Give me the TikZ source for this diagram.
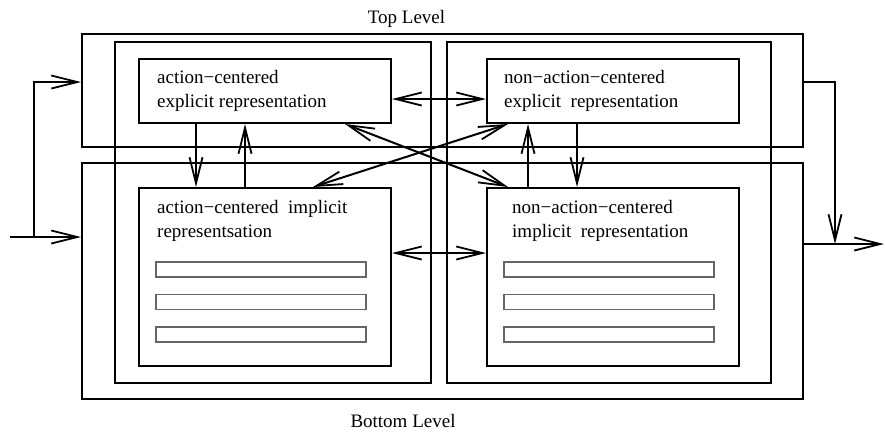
\documentclass[tikz,border=0pt]{standalone}
\usepackage{fontspec}
\setmainfont{Liberation Serif}
\usetikzlibrary{arrows.meta}
\begin{document}
\begin{tikzpicture}[x=1pt,y=-1pt,
  box/.style={draw,line width=2pt,inner sep=0pt,minimum width=#1},
  bar/.style={draw=black!60,line width=1.3pt,inner sep=0pt,minimum width=210pt,minimum height=15pt},
  lbl/.style={anchor=base west,inner sep=0pt,font=\fontsize{19}{24}\selectfont},
  tip/.tip={Straight Barb[length=26pt,width=13pt,line width=1.8pt]},
  arr/.style={line width=2pt,-tip},
  darr/.style={line width=2pt,tip-tip}]
\useasboundingbox (0,0) rectangle (885,432);
% level boxes
\node[box=721pt,minimum height=113pt] (top) at (442.5,90.5) {};
\node[box=721pt,minimum height=236pt] (bot) at (442.5,281) {};
\node[box=316pt,minimum height=341pt] (lcol) at (273,212.5) {};
\node[box=324pt,minimum height=341pt] (rcol) at (609,212.5) {};
% representation boxes
\node[box=252pt,minimum height=64pt] (ace) at (265,91) {};
\node[box=252pt,minimum height=64pt] (nace) at (613,91) {};
\node[box=252pt,minimum height=178pt] (aci) at (265,277) {};
\node[box=252pt,minimum height=178pt] (naci) at (613,277) {};
% bars
\node[bar] (b1) at (261,269.5) {};
\node[bar] (b2) at (261,302) {};
\node[bar] (b3) at (261,334.5) {};
\node[bar] (b4) at (609,269.5) {};
\node[bar] (b5) at (609,302) {};
\node[bar] (b6) at (609,334.5) {};
% texts
\node[lbl] (t1) at (157,83) {action−centered};
\node[lbl] (t2) at (157,107) {explicit representation};
\node[lbl] (t3) at (504,83) {non−action−centered};
\node[lbl] (t4) at (504,107) {explicit\ \ representation};
\node[lbl] (t5) at (157,213) {action−centered\ \ implicit};
\node[lbl] (t6) at (157,237) {representsation};
\node[lbl] (t7) at (512,213) {non−action−centered};
\node[lbl] (t8) at (512,237) {implicit\ \ representation};
\node[font=\fontsize{19}{24}\selectfont,inner sep=0pt] (toplab) at (406.5,19) {Top Level};
\node[font=\fontsize{19}{24}\selectfont,inner sep=0pt] (botlab) at (403,421) {Bottom Level};
% helper coordinates
\coordinate (xa) at (196,0);
\coordinate (xb) at (245,0);
\coordinate (xc) at (528,0);
\coordinate (xd) at (577,0);
\coordinate (xe) at (345,0);
\coordinate (xf) at (313,0);
\coordinate (xg) at (508,0);
\coordinate (ya) at (0,99);
\coordinate (yb) at (0,253);
\coordinate (in) at (10,237);
\coordinate (sp) at (34,237);
\coordinate (yin) at (0,82);
\coordinate (oc) at (835,244);
\coordinate (out) at (884,244);
% vertical arrows
\draw[arr] (ace.south -| xa) -- (aci.north -| xa);
\draw[arr] (aci.north -| xb) -- (ace.south -| xb);
\draw[arr] (naci.north -| xc) -- (nace.south -| xc);
\draw[arr] (nace.south -| xd) -- (naci.north -| xd);
% horizontal double arrows
\draw[darr] (ace.east |- ya) -- (nace.west |- ya);
\draw[darr] (aci.east |- yb) -- (naci.west |- yb);
% diagonal double arrows
\draw[darr] (ace.south -| xe) -- (naci.north -| xg);
\draw[darr] (aci.north -| xf) -- (nace.south -| xg);
% input
\draw[arr] (in) -- (bot.west |- in);
\draw[arr] (sp) |- (top.west |- yin);
% output
\draw[arr] (top.east |- yin) -| (oc);
\draw[arr] (bot.east |- out) -- (out);
\end{tikzpicture}
\end{document}
